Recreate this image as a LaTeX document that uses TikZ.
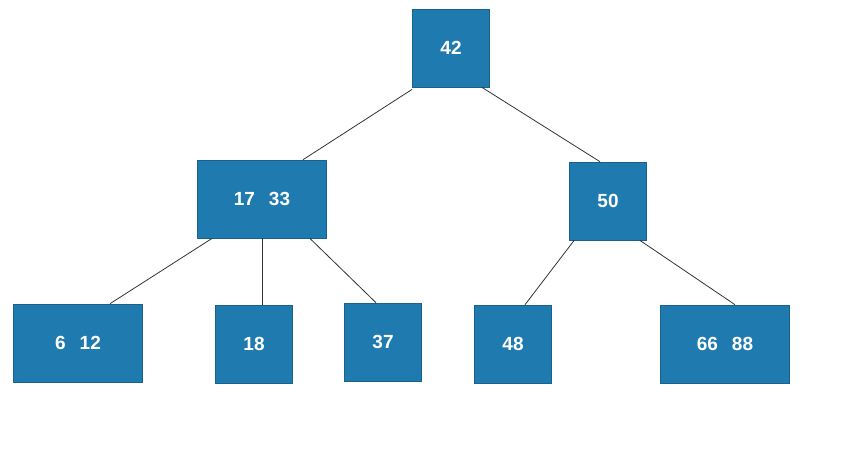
\documentclass[tikz,border=0pt]{standalone}
\usepackage{fontspec}
\setmainfont{Liberation Sans}
\begin{document}
\begin{tikzpicture}[x=1pt,y=-1pt]
\definecolor{keyblue}{HTML}{1F7BAF}
\tikzset{
    %Formats tree nodes
    key/.style={fill=keyblue, draw=keyblue!80!black, line width=0.6pt, minimum height=78pt, minimum width=77pt,
        text=white, font=\fontsize{19}{22}\selectfont\bfseries, inner sep=0pt},
    wide/.style={key, minimum width=129pt},
    edge/.style={draw=black!80, line width=0.8pt}
}
\useasboundingbox (0,0) rectangle (845,473);
%Root and inner level
\node[key]  (n42)   at (451,48)  {42};
\node[wide] (n1733) at (262,199) {17\hspace{14pt}33};
\node[key]  (n50)   at (608,201) {50};
%Leaves
\node[wide] (n612)  at (78,343)  {6\hspace{14pt}12};
\node[key]  (n18)   at (254,344) {18};
\node[key]  (n37)   at (383,342) {37};
\node[key]  (n48)   at (513,344) {48};
\node[wide] (n6688) at (725,344) {66\hspace{14pt}88};
%Connectors
\draw[edge] ([yshift=-2pt]n42.south west) -- ([xshift=41pt]n1733.north);
\draw[edge] ([xshift=-8pt]n42.south east) -- ([xshift=-8pt]n50.north);
\draw[edge] ([xshift=15pt]n1733.south west) -- ([xshift=32pt]n612.north);
\draw[edge] (n1733.south) -- ([xshift=8pt]n18.north);
\draw[edge] ([xshift=-17pt]n1733.south east) -- ([xshift=-7pt]n37.north);
\draw[edge] ([xshift=5pt]n50.south west) -- ([xshift=12pt]n48.north);
\draw[edge] ([xshift=-7pt]n50.south east) -- ([xshift=10pt]n6688.north);
\end{tikzpicture}
\end{document}
